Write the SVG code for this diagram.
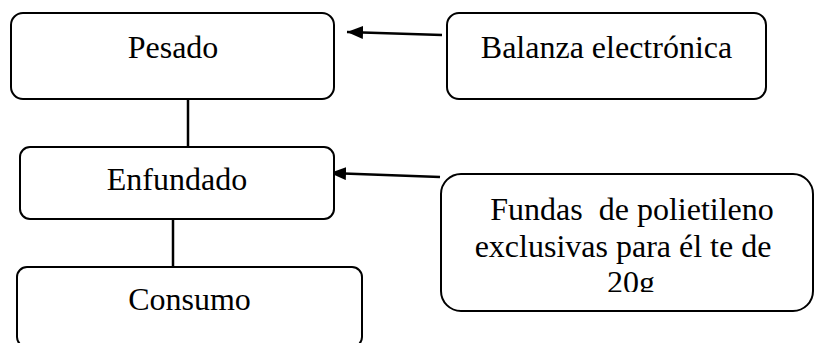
<svg xmlns="http://www.w3.org/2000/svg" width="815" height="343" viewBox="0 0 815 343">
<style>
.box{fill:#fff;stroke:#000;stroke-width:2}
.t{font-family:"Liberation Serif","Times New Roman",serif;font-size:32px;fill:#000;text-anchor:middle}
.ln{stroke:#000;stroke-width:2.5;fill:none}
</style>
<defs>
<marker id="ah" markerWidth="16" markerHeight="13" refX="16" refY="6.5" orient="auto" markerUnits="userSpaceOnUse">
<path d="M0,0 L16,6.5 L0,13 Z" fill="#000"/>
</marker>
<clipPath id="fc"><rect x="441" y="174" width="374" height="118"/></clipPath>
</defs>
<rect width="815" height="343" fill="#fff"/>
<g id="connectors">
<line class="ln" x1="188" y1="99" x2="188" y2="160"/>
<line class="ln" x1="173" y1="219" x2="173" y2="267"/>
<line class="ln" x1="442" y1="35" x2="347" y2="32" marker-end="url(#ah)"/>
<line class="ln" x1="440" y1="177" x2="330" y2="173" marker-end="url(#ah)"/>
</g>
<g id="pesado">
<rect class="box" x="11" y="13" width="323" height="86" rx="12"/>
<text class="t" x="173" y="58">Pesado</text>
</g>
<g id="balanza">
<rect class="box" x="447" y="13" width="319" height="86" rx="12"/>
<text class="t" x="606.5" y="58">Balanza electrónica</text>
</g>
<g id="enfundado">
<rect class="box" x="20" y="147" width="314" height="72" rx="10"/>
<text class="t" x="177" y="190">Enfundado</text>
</g>
<g id="consumo">
<rect class="box" x="17" y="267" width="345" height="80" rx="10"/>
<text class="t" x="189.5" y="310">Consumo</text>
</g>
<g id="fundas">
<rect class="box" x="441" y="174" width="372" height="137" rx="20"/>
<g clip-path="url(#fc)">
<text class="t" x="632" y="220" xml:space="preserve">Fundas  de polietileno</text>
<text class="t" x="623" y="257">exclusivas para él te de</text>
<text class="t" x="631" y="293">20g</text>
</g>
</g>
</svg>
